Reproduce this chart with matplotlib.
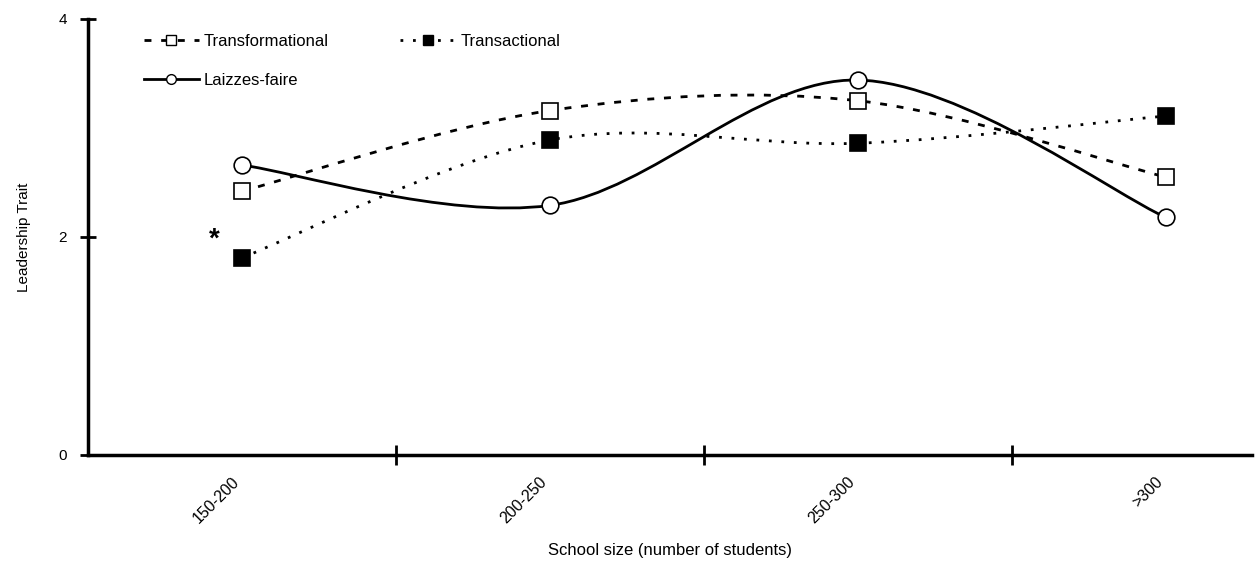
import matplotlib.pyplot as plt
import numpy as np
from matplotlib.path import Path
from matplotlib.patches import PathPatch
from matplotlib.lines import Line2D

plt.rcParams['font.family'] = ['Liberation Sans', 'DejaVu Sans']

# categories on the x axis
school_size = ['150-200', '200-250', '250-300', '>300']

# mean leadership trait per school size
transformational = [2.42, 3.16, 3.25, 2.55]
transactional = [1.81, 2.89, 2.86, 3.11]
laissez_faire = [2.66, 2.29, 3.44, 2.18]


def smooth_path(xs, ys):
    # Excel style smoothed line: cubic bezier segments through the points
    pts = np.column_stack([xs, ys]).astype(float)
    n = len(pts)
    verts = [pts[0]]
    codes = [Path.MOVETO]
    for i in range(n - 1):
        p0 = pts[i - 1] if i > 0 else pts[i]
        p1 = pts[i]
        p2 = pts[i + 1]
        p3 = pts[i + 2] if i + 2 < n else pts[i + 1]
        c1 = p1 + (p2 - p0) / 6.0
        c2 = p2 - (p3 - p1) / 6.0
        verts += [c1, c2, p2]
        codes += [Path.CURVE4] * 3
    return Path(verts, codes)


fig = plt.figure(figsize=(12.57, 5.61), dpi=100)
ax = fig.add_axes([88 / 1257, 1 - 455 / 561, (1252 - 88) / 1257, (455 - 19) / 561])

x = np.arange(len(school_size))

styles = {
    'Transformational': (transformational, (0, (2.5, 3.5)), 's', 'white'),
    'Transactional': (transactional, (0, (1, 3.5)), 's', 'black'),
    'Laizzes-faire': (laissez_faire, '-', 'o', 'white'),
}

handles = {}
for name, (vals, ls, mk, fc) in styles.items():
    patch = PathPatch(smooth_path(x, vals), facecolor='none', edgecolor='black',
                      linewidth=2, linestyle=ls, zorder=2)
    ax.add_patch(patch)
    ms = 11 if mk == 's' else 12
    ax.plot(x, vals, linestyle='none', marker=mk, markersize=ms,
            markerfacecolor=fc, markeredgecolor='black', markeredgewidth=1.2, zorder=3)
    handles[name] = Line2D([], [], color='black', linewidth=2, linestyle=ls, marker=mk,
                           markersize=7, markerfacecolor=fc, markeredgecolor='black',
                           label=name)

# significance marker
ax.text(-0.09, 1.98, '*', fontsize=20, fontweight='bold', ha='center', va='center')

ax.set_yticks([0, 2, 4])
ax.set_yticklabels(['0', '2', '4'], fontsize=11)
ax.tick_params(axis='y', direction='inout', length=12, width=2, pad=9)

ax.set_xticks(x[:-1] + 0.5)
ax.set_xticklabels([])
ax.tick_params(axis='x', which='major', direction='inout', length=14, width=2)
ax.set_xticks(x, minor=True)
ax.set_xticklabels(school_size, minor=True, rotation=45, ha='right', fontsize=11.5)
ax.tick_params(axis='x', which='minor', length=0, pad=14)

ax.set_xlim(-0.5, 3.28)
ax.set_ylim(0, 4)

for side in ['top', 'right']:
    ax.spines[side].set_visible(False)
for side in ['left', 'bottom']:
    ax.spines[side].set_linewidth(2.5)

ax.set_ylabel('Leadership Trait', fontsize=11, labelpad=20)
ax.set_xlabel('School size (number of students)', fontsize=12, labelpad=12)

# column-wise fill: Transformational / Laizzes-faire, then Transactional
order = ['Transformational', 'Laizzes-faire', 'Transactional']
ax.legend(handles=[handles[k] for k in order], ncol=2, frameon=False, loc='upper left',
          bbox_to_anchor=(0.035, 1.0), fontsize=12, handlelength=3.3,
          columnspacing=4.3, labelspacing=1.45, handletextpad=0.3)

fig.savefig('out.png', dpi=100)
